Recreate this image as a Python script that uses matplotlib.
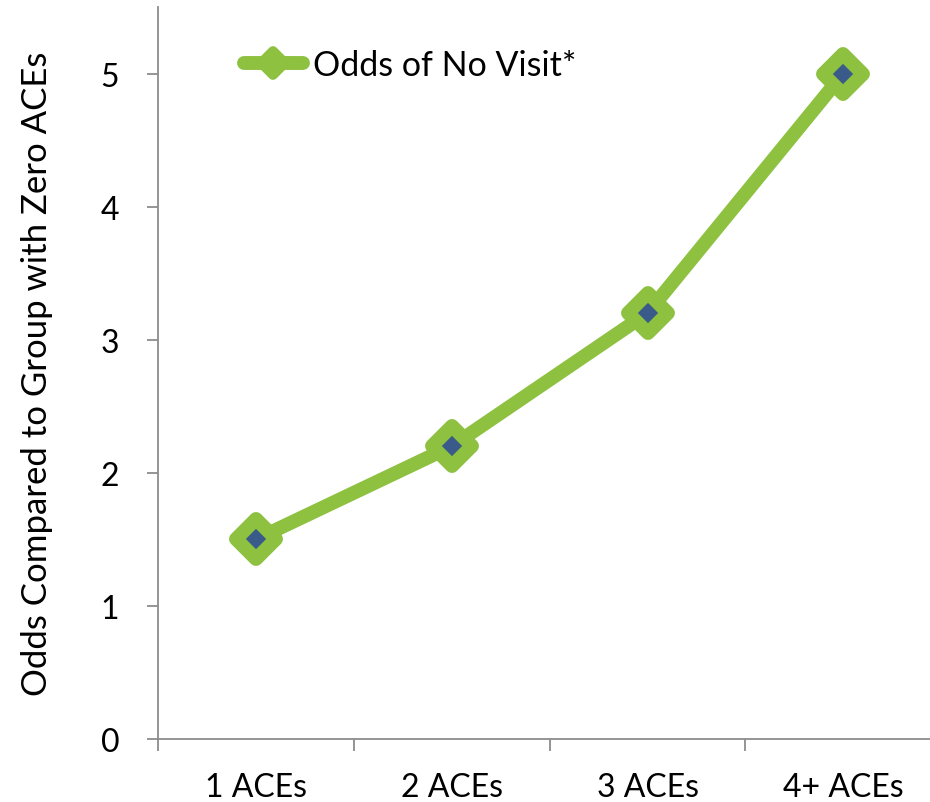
import matplotlib.pyplot as plt
from matplotlib.markers import MarkerStyle
from matplotlib.lines import Line2D

categories = ["1 ACEs", "2 ACEs", "3 ACEs", "4+ ACEs"]
odds = [1.5, 2.2, 3.2, 5.0]
series_label = "Odds of No Visit*"

green = "#8dc13f"
blue = "#3a5a8a"
axis_grey = "#8c8c8c"

plt.rcParams['font.family'] = ['Lato', 'DejaVu Sans']

fig = plt.figure(figsize=(9.3, 8.03), dpi=100)
ax = fig.add_axes([0.17, 0.0785, 0.842, 0.9115])

x = range(len(categories))
ax.plot(x, odds, color=green, lw=10, solid_capstyle='round', solid_joinstyle='round',
        marker=MarkerStyle('D', joinstyle='round'), ms=20, mfc=blue, mec=green, mew=10,
        label=series_label, clip_on=False)

ax.set_xlim(-0.5, 3.5)
ax.set_ylim(0, 5.5)
ax.set_yticks([0, 1, 2, 3, 4, 5])
ax.set_xticks([-0.5, 0.5, 1.5, 2.5], minor=False)
ax.set_xticklabels([])
ax.set_xticks(list(x), minor=True)
ax.set_xticklabels(categories, minor=True)
ax.tick_params(axis='x', which='minor', length=0, pad=24, labelsize=23)
ax.tick_params(axis='x', which='major', length=8.5, width=1.3, color=axis_grey, direction='out')
ax.tick_params(axis='y', length=8, width=1.3, color=axis_grey, direction='out', pad=20, labelsize=23)

for side in ['top', 'right']:
    ax.spines[side].set_visible(False)
for side in ['left', 'bottom']:
    ax.spines[side].set_color(axis_grey)
    ax.spines[side].set_linewidth(1.3)

ax.set_ylabel("Odds Compared to Group with Zero ACEs", fontsize=25, labelpad=34)

handle = Line2D([], [], color=green, lw=10, solid_capstyle='round',
                marker=MarkerStyle('D', joinstyle='round'), ms=12, mfc=green, mec=green, mew=7)
ax.legend([handle], [series_label], loc='upper left', bbox_to_anchor=(0.07, 0.985),
          frameon=False, fontsize=24.5, handlelength=1.75, handletextpad=0.3)

fig.savefig("out.png", dpi=100)
